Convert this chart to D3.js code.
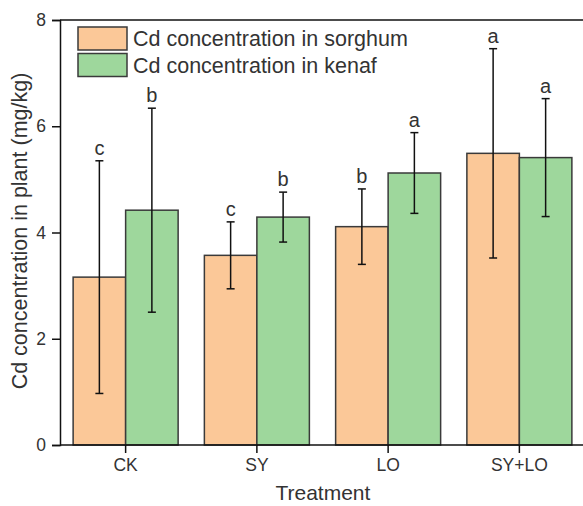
<!DOCTYPE html>
<html>
<head>
<meta charset="utf-8">
<script src="https://cdn.jsdelivr.net/npm/d3@7"></script>
<style>
    body { margin: 0; background: #fff; }
    text { font-family: Arial, "Liberation Sans", sans-serif; fill: #333; }
</style>
</head>
<body>
<div id="chart"></div>
<script>
// Cd concentration in sorghum and kenaf by treatment

let treatments = ["CK", "SY", "LO", "SY+LO"];
let seriesNames = ["Cd concentration in sorghum", "Cd concentration in kenaf"];
let seriesColors = ["#fbc898", "#9ed79c"];

let sorghumMean = [3.16, 3.57, 4.11, 5.49];
let sorghumSD = [2.19, 0.63, 0.71, 1.97];
let sorghumLetters = ["c", "c", "b", "a"];

let kenafMean = [4.42, 4.29, 5.12, 5.41];
let kenafSD = [1.92, 0.47, 0.76, 1.11];
let kenafLetters = ["b", "b", "a", "a"];

let yTicks = [0, 2, 4, 6, 8];

let width = 583, height = 506;
let margin = {top: 20, right: -2, bottom: 61, left: 60};

let svg = d3.select("#chart")
    .append("svg")
    .attr("width", width)
    .attr("height", height);

// scales
let x0 = d3.scaleBand()
    .domain(treatments)
    .range([margin.left, width - margin.right])
    .paddingInner(0.2)
    .paddingOuter(0.1);
let x1 = d3.scaleBand()
    .domain([0, 1])
    .range([0, x0.bandwidth()]);
let y = d3.scaleLinear()
    .domain([0, 8])
    .range([height - margin.bottom, margin.top]);

// rows for the bars
let rows = [];
treatments.forEach((t, i) => {
    rows.push({t: t, s: 0, mean: sorghumMean[i], sd: sorghumSD[i], letter: sorghumLetters[i]});
    rows.push({t: t, s: 1, mean: kenafMean[i], sd: kenafSD[i], letter: kenafLetters[i]});
});

// bars
svg.selectAll("rect.bar")
    .data(rows)
    .enter().append("rect")
    .attr("class", "bar")
    .attr("x", d => x0(d.t) + x1(d.s))
    .attr("y", d => y(d.mean))
    .attr("width", x1.bandwidth())
    .attr("height", d => y(0) - y(d.mean))
    .attr("fill", d => seriesColors[d.s])
    .attr("stroke", "#3a3a3a")
    .attr("stroke-width", 1.5);

// error bars
let capW = 4;
let eb = svg.selectAll("g.err")
    .data(rows)
    .enter().append("g")
    .attr("class", "err")
    .attr("stroke", "#111")
    .attr("stroke-width", 1.5);
eb.append("line")
    .attr("x1", d => x0(d.t) + x1(d.s) + x1.bandwidth() / 2)
    .attr("x2", d => x0(d.t) + x1(d.s) + x1.bandwidth() / 2)
    .attr("y1", d => y(d.mean - d.sd))
    .attr("y2", d => y(d.mean + d.sd));
eb.append("line")
    .attr("x1", d => x0(d.t) + x1(d.s) + x1.bandwidth() / 2 - capW)
    .attr("x2", d => x0(d.t) + x1(d.s) + x1.bandwidth() / 2 + capW)
    .attr("y1", d => y(d.mean + d.sd))
    .attr("y2", d => y(d.mean + d.sd));
eb.append("line")
    .attr("x1", d => x0(d.t) + x1(d.s) + x1.bandwidth() / 2 - capW)
    .attr("x2", d => x0(d.t) + x1(d.s) + x1.bandwidth() / 2 + capW)
    .attr("y1", d => y(d.mean - d.sd))
    .attr("y2", d => y(d.mean - d.sd));

// significance letters
svg.selectAll("text.letter")
    .data(rows)
    .enter().append("text")
    .attr("class", "letter")
    .attr("x", d => x0(d.t) + x1(d.s) + x1.bandwidth() / 2)
    .attr("y", d => y(d.mean + d.sd) - 6)
    .attr("text-anchor", "middle")
    .style("font-size", "20px")
    .text(d => d.letter);

// top frame line
svg.append("line")
    .attr("x1", margin.left)
    .attr("x2", width)
    .attr("y1", y(8))
    .attr("y2", y(8))
    .attr("stroke", "#111")
    .attr("stroke-width", 1.5);

// axes
let xAxis = svg.append("g")
    .attr("transform", "translate(0," + y(0) + ")")
    .call(d3.axisBottom(x0).tickSize(8).tickPadding(6));
let yAxis = svg.append("g")
    .attr("transform", "translate(" + margin.left + ",0)")
    .call(d3.axisLeft(y).tickValues(yTicks).tickSize(8).tickPadding(6));

[xAxis, yAxis].forEach(a => {
    a.select(".domain").attr("stroke", "#111").attr("stroke-width", 1.5);
    a.selectAll(".tick line").attr("stroke", "#111").attr("stroke-width", 1.5);
    a.selectAll(".tick text").attr("fill", "#333").style("font-size", "17.5px")
        .style("font-family", "Arial, 'Liberation Sans', sans-serif");
});
xAxis.select(".domain").attr("d", "M" + margin.left + ",0H" + width);

// axis titles
svg.append("text")
    .attr("x", x0("SY") + x0.bandwidth() / 2 + 66)
    .attr("y", 500)
    .attr("text-anchor", "middle")
    .style("font-size", "21px")
    .text("Treatment");
svg.append("text")
    .attr("transform", "translate(27," + 231 + ") rotate(-90)")
    .attr("text-anchor", "middle")
    .style("font-size", "21.5px")
    .text("Cd concentration in plant (mg/kg)");

// legend
let legend = svg.selectAll("g.legend")
    .data(seriesNames)
    .enter().append("g")
    .attr("class", "legend")
    .attr("transform", (d, i) => "translate(78," + (27 + i * 26.5) + ")");
legend.append("rect")
    .attr("width", 49)
    .attr("height", 23)
    .attr("fill", (d, i) => seriesColors[i])
    .attr("stroke", "#3a3a3a")
    .attr("stroke-width", 1.5);
legend.append("text")
    .attr("x", 55)
    .attr("y", 19)
    .style("font-size", "21.5px")
    .text(d => d);
</script>
</body>
</html>
